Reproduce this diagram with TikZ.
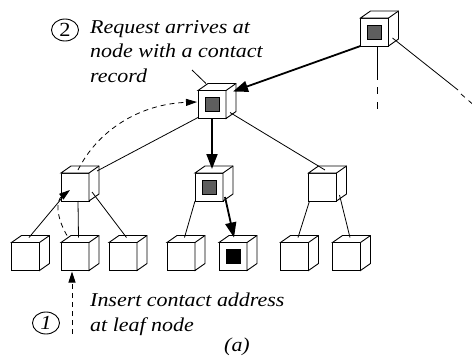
\documentclass[tikz,border=0pt]{standalone}
\usepackage{fontspec}
\setmainfont{Liberation Serif}
\newfontfamily\lab[FakeStretch=1.12]{Liberation Serif}
\usetikzlibrary{arrows.meta,shapes.geometric,calc}
\definecolor{boxgray}{HTML}{5E5E5E}
\tikzset{
 cubefront/.style={rectangle, draw, fill=white, line width=0.9pt, minimum size=28pt, inner sep=0pt, outer sep=0pt},
 cubeside/.style={draw, fill=white, line width=0.9pt, line join=miter},
 graysq/.style={rectangle, draw, fill=boxgray, line width=0.8pt, minimum size=14pt, inner sep=0pt},
 blacksq/.style={rectangle, draw, fill=black, line width=0.8pt, minimum size=14pt, inner sep=0pt},
 edge/.style={line width=0.8pt},
 bigarrow/.style={line width=1.8pt, -{Triangle[length=15pt,width=11pt]}},
 dasharrow/.style={line width=0.8pt, dash pattern=on 5pt off 4pt, -{Triangle[length=11pt,width=7pt]}},
 txt/.style={font=\lab\itshape\fontsize{19.6}{24.5}\selectfont, inner sep=0pt, align=left, anchor=north west},
 num/.style={ellipse, draw, line width=0.9pt, minimum width=27pt, minimum height=22pt, inner sep=0pt, font=\lab\fontsize{20}{20}\selectfont},
}
\newcommand\cubeat[3]{%
  \node[cubefront] (#1) at (#2,#3) {};
  \filldraw[cubeside] (#1.north west) -- ++(10pt,7pt) -- ++(28pt,0pt) -- ++(0pt,-28pt) -- (#1.south east) -- (#1.north east) -- cycle;
  \draw[cubeside] (#1.north east) -- ++(10pt,7pt);
}
\begin{document}
\begin{tikzpicture}[x=1pt,y=-1pt]
\useasboundingbox (0,0) rectangle (472,356);
% cubes
\cubeat{TR}{374.5}{32}
\cubeat{R}{212}{104.5}
\cubeat{M1}{75}{187}
\cubeat{M2}{209}{187}
\cubeat{M3}{322.5}{187}
\cubeat{L1}{25.5}{256.5}
\cubeat{L2}{75}{256.5}
\cubeat{L3}{123}{256.5}
\cubeat{L4}{181}{256.5}
\cubeat{L5}{233}{256.5}
\cubeat{L6}{294.5}{256.5}
\cubeat{L7}{346.5}{256.5}
\node[graysq] (TRin) at (TR) {};
\node[graysq] (Rin) at (R) {};
\node[graysq] (M2in) at (M2) {};
\node[blacksq] (L5in) at (L5) {};
% top anchors of leaves
\foreach \n in {L1,L2,L3,L4,L6,L7} {\coordinate (\n t) at ([shift={(3.5pt,5pt)}]\n.north);}
% edges
\draw[edge] ([shift={(1pt,3pt)}]M1.south west) -- (L1t);
\draw[edge] ([shift={(3pt,0pt)}]M1.south) -- (L2t);
\draw[edge] ([shift={(3pt,9pt)}]M1.south east) -- (L3t);
\draw[edge] (M2.south west) -- (L4t);
\draw[bigarrow] ([shift={(2pt,4pt)}]M2.south east) -- ([shift={(1pt,5pt)}]L5.north);
\draw[edge] ([shift={(1pt,0pt)}]M3.south west) -- (L6t);
\draw[edge] ([shift={(3pt,6pt)}]M3.south east) -- (L7t);
\draw[edge] ([shift={(0pt,1pt)}]R.south west) -- ([shift={(8pt,2pt)}]M1.north east);
\draw[bigarrow] (R.south) -- ([shift={(3pt,4pt)}]M2.north);
\draw[edge] ([shift={(4pt,6pt)}]R.south east) -- ([shift={(2.5pt,3pt)}]M3.north);
\coordinate (Rup) at (192,70);
\draw[edge] ([shift={(8pt,7pt)}]R.north west) -- (Rup);
\draw[bigarrow] (TR.south west) -- ([shift={(7pt,-1pt)}]R.north east);
% edges leaving the top-right node
\coordinate (TRd1) at (377.5,80);
\coordinate (TRd2) at (377.5,87);
\coordinate (TRd3) at (377.5,111);
\draw[edge] ([shift={(3pt,0pt)}]TR.south) -- (TRd1);
\draw[edge, dash pattern=on 7pt off 8pt] (TRd2) -- (TRd3);
\coordinate (TRr1) at (458,90);
\coordinate (TRr2) at (461,94);
\coordinate (TRr3) at (476,107);
\draw[edge] ([shift={(4pt,-6pt)}]TR.east) -- (TRr1);
\draw[edge, dash pattern=on 5pt off 5pt] (TRr2) -- (TRr3);
% dashed request/insert paths
\coordinate (ins) at (72,334);
\draw[dasharrow] (ins) -- ([shift={(-3pt,-1pt)}]L2.south);
\draw[dasharrow] ([shift={(-8pt,7pt)}]L2.north) .. controls (55,215) and (57,200) .. ([shift={(9pt,11pt)}]M1.south west);
\draw[dasharrow] ([shift={(3pt,3pt)}]M1.north) .. controls (98,130) and (140,104) .. ([shift={(-1pt,2.5pt)}]R.west);
% labels
\node[num] (c2) at (65,30) {2};
\node[num, font=\lab\itshape\fontsize{20}{20}\selectfont] (c1) at (46,323) {1};
\node[txt] (t2) at (90,20) {Request arrives at\\node with a contact\\record};
\node[txt] (t1) at (90,293) {Insert contact address\\at leaf node};
\node[font=\lab\itshape\fontsize{19.6}{24.5}\selectfont, anchor=base, inner sep=0pt] (cap) at (237,351.5) {(a)};
\end{tikzpicture}
\end{document}
